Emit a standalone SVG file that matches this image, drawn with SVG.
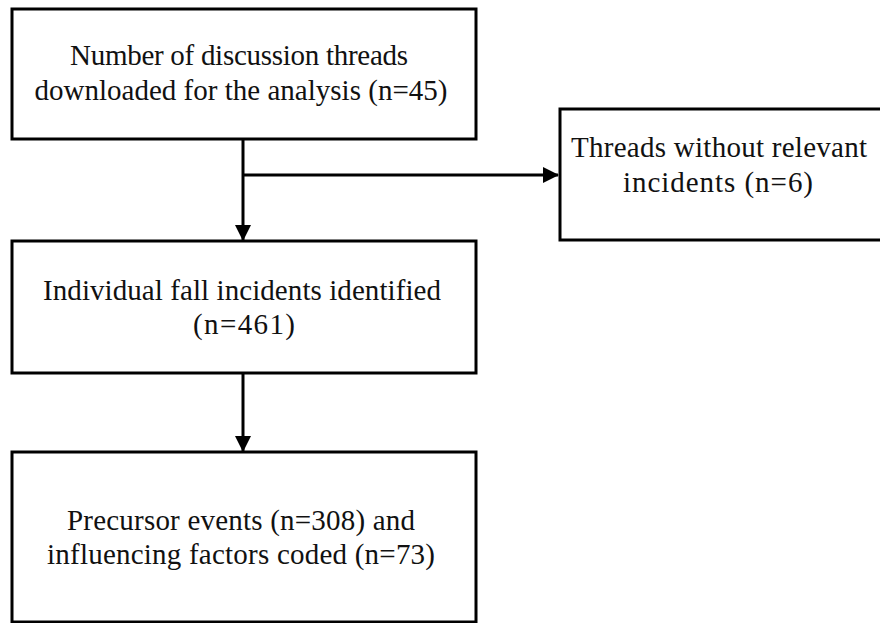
<svg xmlns="http://www.w3.org/2000/svg" width="880" height="623" viewBox="0 0 880 623">
  <defs>
    <style>
      .box { fill: #ffffff; stroke: #000000; stroke-width: 3; }
      .lbl { font-family: "Liberation Serif", "Times New Roman", serif; font-size: 29px; fill: #111111; text-anchor: middle; }
      .edge { fill: none; stroke: #000000; stroke-width: 3; }
    </style>
    <marker id="arrow" viewBox="0 0 16 16" refX="15" refY="8" markerWidth="16" markerHeight="16" markerUnits="userSpaceOnUse" orient="auto">
      <path d="M0,0 L16,8 L0,16 Z" fill="#000000"/>
    </marker>
  </defs>
  <rect width="880" height="623" fill="#ffffff"/>

  <g id="connectors">
    <line class="edge" x1="243" y1="139" x2="243" y2="240" marker-end="url(#arrow)"/>
    <line class="edge" x1="243" y1="175" x2="558" y2="175" marker-end="url(#arrow)"/>
    <line class="edge" x1="243" y1="373" x2="243" y2="451" marker-end="url(#arrow)"/>
  </g>

  <g id="threads-downloaded">
    <rect class="box" x="12" y="9" width="464" height="130"/>
    <text class="lbl" x="239" y="65" textLength="338" lengthAdjust="spacing">Number of discussion threads</text>
    <text class="lbl" x="241" y="100" textLength="413" lengthAdjust="spacing">downloaded for the analysis (n=45)</text>
  </g>

  <g id="threads-excluded">
    <rect class="box" x="560" y="109" width="340" height="131"/>
    <text class="lbl" x="719" y="157" textLength="296" lengthAdjust="spacing">Threads without relevant</text>
    <text class="lbl" x="718" y="192" textLength="190" lengthAdjust="spacing">incidents (n=6)</text>
  </g>

  <g id="fall-incidents">
    <rect class="box" x="12" y="241" width="464" height="132"/>
    <text class="lbl" x="242" y="300" textLength="398" lengthAdjust="spacing">Individual fall incidents identified</text>
    <text class="lbl" x="244" y="334" textLength="102" lengthAdjust="spacing">(n=461)</text>
  </g>

  <g id="coded-events">
    <rect class="box" x="12" y="452" width="464" height="170"/>
    <text class="lbl" x="241" y="530" textLength="348" lengthAdjust="spacing">Precursor events (n=308) and</text>
    <text class="lbl" x="241" y="564" textLength="388" lengthAdjust="spacing">influencing factors coded (n=73)</text>
  </g>
</svg>
